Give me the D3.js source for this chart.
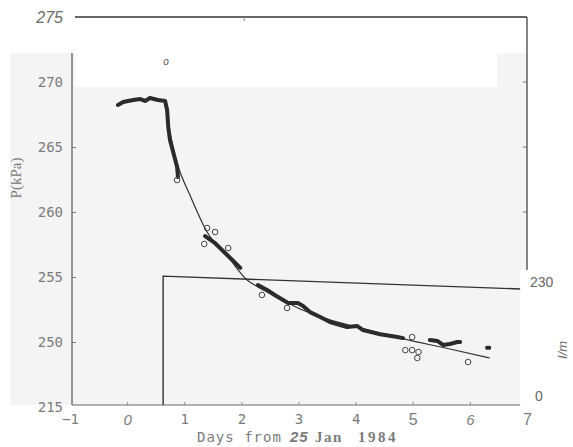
<!DOCTYPE html>
<html>
<head>
<meta charset="utf-8">
<script src="https://cdn.jsdelivr.net/npm/d3@7"></script>
<style>
  body { margin: 0; background: #fff; }
  svg { display: block; }
</style>
</head>
<body>
<script>
// days from 25 Jan 1984
var dayTicks = [-1, 0, 1, 2, 3, 4, 5, 6, 7];
var dayLabels = ["\u22121", "0", "1", "2", "3", "4", "5", "6", "7"];
var pTicks = [245, 250, 255, 260, 265, 270, 275];
var pLabels = ["215", "250", "255", "260", "265", "270", "275"];
var rightTicks = [0, 230];

// measured pressure, null = gap in trace
var measuredDays = [-0.16, -0.07, 0.105, 0.23, 0.315, 0.40, 0.54, 0.665, 0.70, 0.72, 0.75, 0.81, 0.875, 0.89, null,
  1.365, 1.54, 1.715, 1.89, 1.98, null,
  2.29, 2.45, 2.59, 2.73, 2.82, 2.99, 3.08, 3.20, 3.38, 3.55, 3.85, 4.03, 4.13, 4.43, 4.73, 4.83, null,
  5.30, 5.43, 5.53, 5.65, 5.78, 5.83, null,
  6.30, 6.34];
var measuredP = [268.23, 268.46, 268.62, 268.69, 268.54, 268.77, 268.62, 268.54, 267.85, 266.54, 265.54, 264.54, 263.46, 262.69, null,
  258.15, 257.6, 256.85, 256.1, 255.7, null,
  254.38, 254.0, 253.6, 253.23, 253.0, 253.0, 252.77, 252.3, 251.92, 251.54, 251.15, 251.23, 250.92, 250.6, 250.38, 250.3, null,
  250.15, 250.08, 249.77, 249.85, 250.0, 250.0, null,
  249.55, 249.55];

// fitted curve
var fitDays = [0.72, 0.875, 1.10, 1.40, 1.77, 2.10, 2.29, 2.59, 3.03, 3.55, 4.08, 4.78, 5.65, 6.35];
var fitP = [266.7, 263.77, 261.3, 258.46, 256.54, 254.77, 254.23, 253.54, 252.54, 251.7, 251.08, 250.3, 249.46, 248.77];

// open circles
var circleDays = [0.875, 1.40, 1.54, 1.35, 1.77, 2.36, 2.80, 4.99, 4.87, 4.99, 5.10, 5.08, 5.97];
var circleP = [262.46, 258.77, 258.46, 257.54, 257.23, 253.62, 252.62, 250.38, 249.38, 249.38, 249.23, 248.77, 248.46];
var outlierDays = [0.68];
var outlierP = [271.54];

// right-axis step trace
var stepDays = [0.63, 0.63, 6.88];
var stepValues = [0, 241, 217];

var W = 573, H = 447;
var svg = d3.select("body").append("svg").attr("width", W).attr("height", H)
  .style("font-family", "DejaVu Sans Mono");

var x = d3.scaleLinear().domain([-1, 7]).range([70, 527]);
var y = d3.scaleLinear().domain([245, 275]).range([407, 17]);
var yR = d3.scaleLinear().domain([0, 230]).range([405, 282]);

var grey = "#f4f4f4", ink = "#2b2b2b", lab = "#7c7c7c";

// scanned panel and cover-ups
svg.append("rect").attr("x", 10).attr("y", 53).attr("width", 517).attr("height", 352).attr("fill", grey);
svg.append("rect").attr("x", 75).attr("y", 53).attr("width", 422).attr("height", 34).attr("fill", "#fff");
svg.append("rect").attr("x", 520).attr("y", 270).attr("width", 53).attr("height", 177).attr("fill", "#fff");

// frame lines
svg.append("line").attr("x1", 72).attr("x2", 72).attr("y1", 53).attr("y2", 405)
  .attr("stroke", "#555").attr("stroke-width", 1.2);
svg.append("line").attr("x1", 72).attr("x2", x(6.88)).attr("y1", 405).attr("y2", 405)
  .attr("stroke", "#666").attr("stroke-width", 1.2);
svg.append("line").attr("x1", 75).attr("x2", x(7)).attr("y1", y(275)).attr("y2", y(275))
  .attr("stroke", "#333").attr("stroke-width", 1.5);
svg.append("line").attr("x1", x(2.05)).attr("x2", x(2.05)).attr("y1", y(275)).attr("y2", y(275) + 4)
  .attr("stroke", "#888");
svg.append("line").attr("x1", x(7)).attr("x2", x(7)).attr("y1", y(275)).attr("y2", 270)
  .attr("stroke", "#444").attr("stroke-width", 1.3);
svg.selectAll(".rtick").data([270, 265, 260]).enter().append("line")
  .attr("x1", x(7) - 4).attr("x2", x(7)).attr("y1", function(d) { return y(d); }).attr("y2", function(d) { return y(d); })
  .attr("stroke", "#777");

// left axis
var yAxis = d3.axisLeft(y).tickValues(pTicks)
  .tickFormat(function(d) { return pLabels[pTicks.indexOf(d)]; })
  .tickSizeInner(-4).tickSizeOuter(0).tickPadding(10);
var gy = svg.append("g").attr("transform", "translate(72,0)").call(yAxis);
gy.select(".domain").remove();
gy.selectAll(".tick line").attr("stroke", "#777")
  .attr("display", function(d) { return (d >= 250 && d <= 265) ? null : "none"; });
gy.selectAll(".tick text").attr("fill", lab).style("font-size", "14px")
  .style("font-family", "DejaVu Sans Mono").attr("x", -9);
gy.selectAll(".tick text").filter(function(d) { return d === 275; })
  .style("font-family", "Liberation Sans").style("font-style", "italic")
  .style("font-size", "16px").attr("fill", "#6a6a6a");

// bottom axis
var xAxis = d3.axisBottom(x).tickValues(dayTicks)
  .tickFormat(function(d) { return dayLabels[dayTicks.indexOf(d)]; })
  .tickSizeInner(-3).tickSizeOuter(0).tickPadding(9);
var gx = svg.append("g").attr("transform", "translate(0,405)").call(xAxis);
gx.select(".domain").remove();
gx.selectAll(".tick line").attr("stroke", "#888")
  .attr("display", function(d) { return (d >= 0 && d <= 6) ? null : "none"; });
gx.selectAll(".tick text").attr("fill", lab).style("font-size", "14px")
  .style("font-family", "DejaVu Sans Mono");
gx.selectAll(".tick text").filter(function(d) { return d === 0 || d === 6; })
  .style("font-family", "Liberation Sans").style("font-style", "italic").style("font-size", "15px");
gx.selectAll(".tick text").filter(function(d) { return d === 5 || d === 7; })
  .style("font-family", "Liberation Sans").style("font-size", "16px");

// right axis labels
var rAxis = d3.axisRight(yR).tickValues(rightTicks).tickSize(0).tickPadding(4);
var gr = svg.append("g").attr("transform", "translate(" + x(7) + ",0)").call(rAxis);
gr.select(".domain").remove();
gr.selectAll(".tick text").attr("fill", "#666").style("font-family", "Liberation Sans").style("font-size", "14px")
  .attr("x", function(d) { return d === 0 ? 8 : 3; })
  .attr("dy", function(d) { return d === 0 ? "-0.35em" : "0.32em"; });

// axis titles
svg.append("text").attr("transform", "translate(21,178) rotate(-90)").attr("text-anchor", "middle")
  .attr("fill", "#777").style("font-family", "Liberation Serif").style("font-size", "15px").text("P(kPa)");
var xt = svg.append("text").attr("y", 442).attr("fill", lab).style("font-size", "14px");
xt.append("tspan").attr("x", 197).style("font-family", "DejaVu Sans Mono").attr("letter-spacing", "1px").text("Days from");
xt.append("tspan").attr("x", 290).style("font-family", "Liberation Sans").style("font-style", "italic").style("font-weight", "bold")
  .style("font-size", "15px").attr("letter-spacing", "1px").text("25");
xt.append("tspan").attr("x", 315).style("font-family", "Liberation Serif").style("font-weight", "bold")
  .style("font-size", "15px").attr("letter-spacing", "1.5px").text("Jan");
xt.append("tspan").attr("x", 358).style("font-family", "Liberation Serif").style("font-weight", "bold")
  .style("font-size", "15px").attr("letter-spacing", "2.5px").text("1984");
svg.append("text").attr("transform", "translate(567,350) rotate(-90)").attr("text-anchor", "middle")
  .attr("fill", "#666").style("font-family", "Liberation Sans").style("font-style", "italic")
  .style("font-size", "13px").text("I/m");

// step trace on right axis
var stepLine = d3.line().x(function(d) { return x(d[0]); }).y(function(d) { return yR(d[1]); });
svg.append("path").datum(d3.zip(stepDays, stepValues)).attr("d", stepLine)
  .attr("fill", "none").attr("stroke", "#333").attr("stroke-width", 1.4);

// fitted curve
var pLine = d3.line().defined(function(d) { return d[0] !== null; })
  .x(function(d) { return x(d[0]); }).y(function(d) { return y(d[1]); })
  .curve(d3.curveMonotoneX);
svg.append("path").datum(d3.zip(fitDays, fitP)).attr("d", pLine)
  .attr("fill", "none").attr("stroke", "#333").attr("stroke-width", 1.2);

// measured trace
svg.append("path").datum(d3.zip(measuredDays, measuredP))
  .attr("d", pLine.curve(d3.curveLinear))
  .attr("fill", "none").attr("stroke", ink).attr("stroke-width", 4)
  .attr("stroke-linecap", "round").attr("stroke-linejoin", "round");

// open circles
svg.selectAll(".pt").data(d3.zip(circleDays, circleP)).enter().append("circle")
  .attr("cx", function(d) { return x(d[0]); }).attr("cy", function(d) { return y(d[1]); })
  .attr("r", 2.8).attr("fill", "none").attr("stroke", "#444").attr("stroke-width", 1);
svg.selectAll(".out").data(d3.zip(outlierDays, outlierP)).enter().append("text")
  .attr("x", function(d) { return x(d[0]); }).attr("y", function(d) { return y(d[1]); })
  .attr("text-anchor", "middle").attr("dy", "0.3em")
  .attr("fill", "#555").style("font-family", "Liberation Sans").style("font-style", "italic")
  .style("font-size", "10px").text("o");
</script>
</body>
</html>
